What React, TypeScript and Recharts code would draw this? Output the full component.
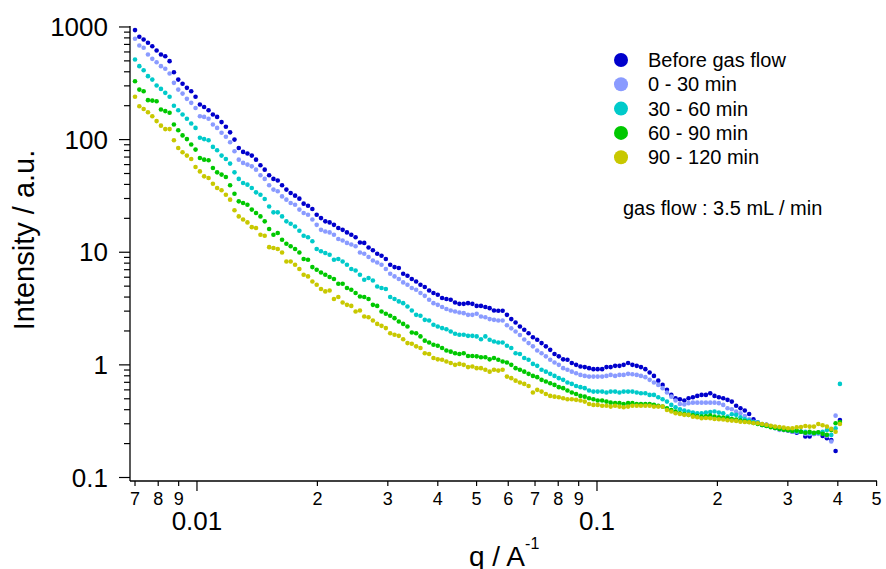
import React from 'react';
import { ScatterChart, Scatter, XAxis, YAxis } from 'recharts';

const FONT = '"Liberation Sans", Arial, Helvetica, sans-serif';

// Scattering vector q (1/Å), shared by all series
const qValues = [
  0.007000, 0.007176, 0.007357, 0.007542, 0.007732, 0.007927, 0.008127, 0.008332, 0.008542, 0.008757,
  0.008978, 0.009204, 0.009436, 0.009674, 0.009918, 0.01017, 0.01042, 0.01069, 0.01096, 0.01123,
  0.01152, 0.01181, 0.01210, 0.01241, 0.01272, 0.01304, 0.01337, 0.01371, 0.01405, 0.01441,
  0.01477, 0.01515, 0.01553, 0.01592, 0.01632, 0.01673, 0.01715, 0.01759, 0.01803, 0.01848,
  0.01895, 0.01943, 0.01992, 0.02042, 0.02093, 0.02146, 0.02200, 0.02256, 0.02313, 0.02371,
  0.02431, 0.02492, 0.02555, 0.02619, 0.02685, 0.02753, 0.02822, 0.02893, 0.02966, 0.03041,
  0.03118, 0.03196, 0.03277, 0.03359, 0.03444, 0.03531, 0.03620, 0.03711, 0.03805, 0.03901,
  0.03999, 0.04100, 0.04203, 0.04309, 0.04418, 0.04529, 0.04643, 0.04760, 0.04880, 0.05003,
  0.05129, 0.05259, 0.05391, 0.05527, 0.05666, 0.05809, 0.05955, 0.06105, 0.06259, 0.06417,
  0.06579, 0.06745, 0.06915, 0.07089, 0.07268, 0.07451, 0.07639, 0.07831, 0.08028, 0.08230,
  0.08437, 0.08650, 0.08868, 0.09091, 0.09320, 0.09555, 0.09796, 0.1004, 0.1030, 0.1056,
  0.1082, 0.1110, 0.1138, 0.1166, 0.1196, 0.1226, 0.1257, 0.1288, 0.1321, 0.1354,
  0.1388, 0.1423, 0.1459, 0.1496, 0.1534, 0.1572, 0.1612, 0.1653, 0.1694, 0.1737,
  0.1781, 0.1826, 0.1872, 0.1919, 0.1967, 0.2017, 0.2068, 0.2120, 0.2173, 0.2228,
  0.2284, 0.2342, 0.2401, 0.2461, 0.2523, 0.2587, 0.2652, 0.2719, 0.2787, 0.2858,
  0.2930, 0.3003, 0.3079, 0.3157, 0.3236, 0.3318, 0.3401, 0.3487, 0.3575, 0.3665,
  0.3757, 0.3852, 0.3949, 0.4049,
];

const beforeGasFlow = [
  938, 818, 774, 724, 675, 618, 570, 550, 497, 396,
  341, 313, 288, 269, 240, 205, 195, 182, 167, 159,
  143, 130, 116, 100, 84.3, 77.8, 75.2, 72.1, 66.4, 59.2,
  54.1, 48.2, 44.8, 43.3, 39.3, 36.0, 33.6, 31.8, 29.9, 27.0,
  25.9, 24.2, 21.5, 20.1, 18.8, 18.4, 17.5, 16.4, 15.8, 15.0,
  14.3, 13.6, 12.2, 12.1, 11.0, 10.4, 9.70, 9.31, 8.71, 7.74,
  7.38, 7.24, 6.44, 6.18, 5.78, 5.50, 5.14, 4.91, 4.57, 4.34,
  4.19, 3.92, 3.84, 3.78, 3.58, 3.48, 3.48, 3.53, 3.48, 3.34,
  3.34, 3.26, 3.19, 3.04, 3.02, 3.02, 2.78, 2.55, 2.38, 2.19,
  2.05, 1.91, 1.76, 1.67, 1.56, 1.46, 1.36, 1.25, 1.19, 1.12,
  1.11, 1.04, 1.00, 0.966, 0.955, 0.935, 0.916, 0.916, 0.916, 0.955,
  0.955, 0.980, 0.980, 1.00, 1.04, 1.00, 0.980, 0.955, 0.916, 0.855,
  0.798, 0.724, 0.664, 0.600, 0.541, 0.506, 0.495, 0.482, 0.506, 0.516,
  0.530, 0.541, 0.541, 0.560, 0.530, 0.516, 0.506, 0.489, 0.472, 0.433,
  0.412, 0.393, 0.366, 0.329, 0.307, 0.293, 0.293, 0.283, 0.279, 0.274,
  0.264, 0.261, 0.255, 0.250, 0.255, 0.231, 0.231, 0.244, 0.249, 0.234,
  0.223, 0.215, 0.172, 0.324,
];

const min0to30 = [
  785, 685, 653, 570, 521, 486, 449, 425, 386, 319,
  278, 256, 230, 212, 191, 161, 159, 153, 136, 127,
  115, 106, 94.6, 78.7, 66.4, 62.1, 60.0, 57.9, 54.1, 48.2,
  44.8, 39.3, 36.0, 34.8, 31.3, 29.3, 27.4, 26.4, 23.9, 22.3,
  21.5, 19.5, 17.5, 15.8, 15.3, 15.0, 14.3, 13.1, 12.7, 12.1,
  11.7, 11.3, 9.95, 9.70, 9.06, 8.45, 8.11, 7.74, 7.10, 6.44,
  6.10, 5.78, 5.40, 5.14, 4.81, 4.65, 4.34, 4.10, 3.78, 3.53,
  3.41, 3.26, 3.13, 3.04, 2.98, 2.92, 2.88, 2.78, 2.78, 2.84,
  2.69, 2.65, 2.55, 2.51, 2.48, 2.48, 2.25, 2.11, 1.98, 1.84,
  1.68, 1.56, 1.46, 1.34, 1.27, 1.19, 1.11, 1.05, 1.00, 0.935,
  0.904, 0.871, 0.843, 0.815, 0.798, 0.787, 0.787, 0.787, 0.787, 0.798,
  0.815, 0.798, 0.815, 0.815, 0.832, 0.826, 0.815, 0.798, 0.778, 0.736,
  0.697, 0.664, 0.621, 0.568, 0.522, 0.482, 0.450, 0.445, 0.457, 0.462,
  0.462, 0.462, 0.462, 0.462, 0.462, 0.457, 0.441, 0.412, 0.404, 0.385,
  0.372, 0.352, 0.329, 0.313, 0.307, 0.299, 0.293, 0.283, 0.274, 0.264,
  0.264, 0.261, 0.255, 0.255, 0.255, 0.244, 0.244, 0.244, 0.244, 0.250,
  0.234, 0.209, 0.354,
];

const min30to60 = [
  514, 449, 413, 366, 341, 302, 282, 260, 240, 200,
  182, 167, 153, 139, 127, 104, 101, 98.6, 86.1, 80.4,
  72.1, 67.3, 61.2, 51.2, 44.8, 41.2, 39.8, 37.2, 34.0, 32.4,
  29.7, 25.5, 22.6, 22.6, 20.8, 18.8, 17.9, 16.9, 15.5, 14.0,
  13.6, 12.5, 10.7, 10.2, 9.84, 9.51, 8.57, 8.71, 8.28, 7.74,
  7.10, 6.89, 6.31, 5.70, 5.90, 5.61, 4.97, 4.81, 4.71, 4.00,
  3.84, 3.66, 3.53, 3.30, 3.04, 2.78, 2.73, 2.51, 2.48, 2.27,
  2.19, 2.12, 2.07, 1.98, 1.89, 1.85, 1.85, 1.81, 1.81, 1.79,
  1.69, 1.79, 1.67, 1.61, 1.58, 1.58, 1.48, 1.41, 1.27, 1.25,
  1.15, 1.11, 1.02, 0.980, 0.904, 0.871, 0.832, 0.798, 0.762, 0.736,
  0.697, 0.678, 0.650, 0.634, 0.621, 0.592, 0.579, 0.579, 0.579, 0.568,
  0.579, 0.579, 0.568, 0.579, 0.579, 0.579, 0.568, 0.560, 0.560, 0.541,
  0.541, 0.516, 0.495, 0.472, 0.441, 0.421, 0.404, 0.393, 0.385, 0.377,
  0.372, 0.372, 0.377, 0.382, 0.385, 0.377, 0.372, 0.347, 0.364, 0.360,
  0.343, 0.329, 0.320, 0.311, 0.307, 0.294, 0.288, 0.283, 0.275, 0.274,
  0.268, 0.264, 0.261, 0.257, 0.255, 0.254, 0.250, 0.247, 0.250, 0.254,
  0.264, 0.239, 0.274, 0.678,
];

const min60to90 = [
  330, 278, 269, 224, 222, 219, 185, 179, 173, 136,
  121, 109, 101, 90.4, 81.5, 68.7, 66.4, 65.5, 56.0, 51.2,
  48.9, 46.6, 39.3, 33.1, 28.3, 27.4, 26.4, 23.9, 22.3, 20.8,
  18.8, 16.1, 14.3, 14.8, 12.9, 11.9, 11.3, 10.7, 9.95, 8.71,
  8.57, 7.38, 6.98, 6.61, 6.31, 6.03, 5.78, 5.25, 5.25, 4.81,
  4.65, 4.34, 4.05, 4.00, 3.84, 3.41, 3.34, 2.98, 2.84, 2.73,
  2.60, 2.43, 2.31, 2.19, 1.94, 1.91, 1.79, 1.64, 1.58, 1.51,
  1.48, 1.41, 1.34, 1.31, 1.27, 1.25, 1.27, 1.20, 1.20, 1.19,
  1.17, 1.17, 1.12, 1.15, 1.11, 1.07, 1.05, 1.00, 0.935, 0.904,
  0.871, 0.832, 0.798, 0.778, 0.736, 0.711, 0.687, 0.664, 0.634, 0.621,
  0.592, 0.568, 0.552, 0.530, 0.522, 0.506, 0.495, 0.482, 0.482, 0.472,
  0.462, 0.457, 0.457, 0.450, 0.457, 0.457, 0.450, 0.450, 0.450, 0.450,
  0.441, 0.433, 0.426, 0.412, 0.398, 0.385, 0.372, 0.366, 0.360, 0.357,
  0.352, 0.347, 0.350, 0.354, 0.347, 0.343, 0.340, 0.336, 0.331, 0.327,
  0.320, 0.316, 0.311, 0.305, 0.299, 0.293, 0.287, 0.279, 0.275, 0.270,
  0.266, 0.263, 0.259, 0.261, 0.255, 0.250, 0.254, 0.249, 0.252, 0.244,
  0.239, 0.264, 0.303, 0.311,
];

const min90to120 = [
  240, 198, 187, 175, 161, 146, 133, 124, 124, 98.6,
  84.3, 77.1, 72.1, 67.3, 57.1, 52.2, 47.2, 45.6, 40.6, 37.2,
  35.5, 32.4, 29.3, 23.6, 20.8, 19.5, 18.4, 16.7, 16.4, 14.3,
  14.0, 11.1, 10.9, 10.7, 9.95, 8.28, 8.28, 7.74, 7.10, 6.31,
  6.10, 5.50, 5.14, 4.71, 4.49, 4.57, 3.84, 4.00, 3.58, 3.41,
  3.34, 2.98, 3.04, 2.69, 2.65, 2.48, 2.31, 2.22, 2.12, 1.91,
  1.85, 1.81, 1.69, 1.56, 1.54, 1.46, 1.41, 1.27, 1.25, 1.15,
  1.12, 1.11, 1.07, 1.04, 1.00, 1.02, 1.00, 0.955, 0.966, 0.935,
  0.935, 0.904, 0.871, 0.904, 0.889, 0.904, 0.787, 0.762, 0.724, 0.697,
  0.678, 0.650, 0.568, 0.600, 0.579, 0.552, 0.530, 0.522, 0.516, 0.506,
  0.495, 0.495, 0.489, 0.482, 0.472, 0.450, 0.441, 0.441, 0.433, 0.433,
  0.426, 0.433, 0.426, 0.421, 0.426, 0.433, 0.433, 0.433, 0.433, 0.433,
  0.426, 0.426, 0.426, 0.398, 0.385, 0.372, 0.366, 0.360, 0.360, 0.347,
  0.343, 0.336, 0.338, 0.336, 0.331, 0.329, 0.327, 0.322, 0.320, 0.318,
  0.313, 0.311, 0.309, 0.305, 0.303, 0.299, 0.293, 0.288, 0.283, 0.281,
  0.277, 0.274, 0.274, 0.279, 0.281, 0.287, 0.283, 0.283, 0.299, 0.291,
  0.283, 0.270, 0.255, 0.299,
];

const seriesNames = ['Before gas flow', '0 - 30 min', '30 - 60 min', '60 - 90 min', '90 - 120 min'];
const seriesColors = ['#0000CC', '#8A9BFF', '#00CACA', '#00C800', '#C8C800'];
const seriesValues = [beforeGasFlow, min0to30, min30to60, min60to90, min90to120];

const xTicks = [0.007, 0.008, 0.009, 0.01, 0.02, 0.03, 0.04, 0.05, 0.06, 0.07, 0.08, 0.09, 0.1, 0.2, 0.3, 0.4, 0.5];
const xTickLabels = ['7', '8', '9', '0.01', '2', '3', '4', '5', '6', '7', '8', '9', '0.1', '2', '3', '4', '5'];

const yTicks = [
  0.1, 0.2, 0.3, 0.4, 0.5, 0.6, 0.7, 0.8, 0.9,
  1, 2, 3, 4, 5, 6, 7, 8, 9,
  10, 20, 30, 40, 50, 60, 70, 80, 90,
  100, 200, 300, 400, 500, 600, 700, 800, 900,
  1000,
];
const yMajorTicks = [0.1, 1, 10, 100, 1000];
const yMajorLabels = ['0.1', '1', '10', '100', '1000'];

const noteText = 'gas flow : 3.5 mL / min';

const findIdx = (arr: number[], v: number) => arr.findIndex((t) => Math.abs(t - v) / t < 1e-6);

const XTick = (props: any) => {
  const { x, y, payload } = props;
  const i = findIdx(xTicks, payload.value);
  const label = i >= 0 ? xTickLabels[i] : '';
  const major = label.includes('.');
  return (
    <g>
      <line x1={x} x2={x} y1={y} y2={y + (major ? 10 : 5)} stroke="#000" strokeWidth={1.2} />
      {major ? (
        <text x={x} y={y + 49} textAnchor="middle" fontSize={26} fontFamily={FONT} fill="#000">
          {label}
        </text>
      ) : (
        <text x={x} y={y + 24} textAnchor="middle" fontSize={18} fontFamily={FONT} fill="#000">
          {label}
        </text>
      )}
    </g>
  );
};

const YTick = (props: any) => {
  const { x, y, payload } = props;
  const i = findIdx(yMajorTicks, payload.value);
  const major = i >= 0;
  return (
    <g>
      <line x1={x - (major ? 11 : 6)} x2={x} y1={y} y2={y} stroke="#000" strokeWidth={1.2} />
      {major && (
        <text x={x - 22} y={y + 9} textAnchor="end" fontSize={26} fontFamily={FONT} fill="#000">
          {yMajorLabels[i]}
        </text>
      )}
    </g>
  );
};

export default function App() {
  const data = seriesValues.map((vals) => vals.map((v, i) => ({ q: qValues[i], I: v })));
  return (
    <div style={{ position: 'relative', width: 886, height: 569, background: '#fff' }}>
      <style>{'body{margin:0;background:#fff}'}</style>
      <ScatterChart width={886} height={569} margin={{ top: 26, right: 9, bottom: 0, left: 0 }}>
        <XAxis
          dataKey="q"
          type="number"
          scale="log"
          domain={[0.006801, 0.5012]}
          allowDataOverflow
          ticks={xTicks}
          interval={0}
          tick={<XTick />}
          tickLine={false}
          tickSize={0}
          tickMargin={0}
          axisLine={{ stroke: '#000', strokeWidth: 1.3 }}
          height={88}
        />
        <YAxis
          dataKey="I"
          type="number"
          scale="log"
          domain={[0.0931, 1020]}
          allowDataOverflow
          ticks={yTicks}
          interval={0}
          tick={<YTick />}
          tickLine={false}
          tickSize={0}
          tickMargin={0}
          axisLine={{ stroke: '#000', strokeWidth: 1.3 }}
          width={130}
        />
        {data.map((d, s) => (
          <Scatter
            key={seriesNames[s]}
            name={seriesNames[s]}
            data={d}
            fill={seriesColors[s]}
            isAnimationActive={false}
            shape={(p: any) => <circle cx={p.cx} cy={p.cy} r={2.3} fill={seriesColors[s]} />}
          />
        ))}
      </ScatterChart>
      <svg
        width={886}
        height={569}
        style={{ position: 'absolute', left: 0, top: 0, pointerEvents: 'none' }}
      >
        {seriesNames.map((n, i) => (
          <g key={n}>
            <circle cx={621} cy={60 + i * 24.3} r={7} fill={seriesColors[i]} />
            <text x={648} y={60 + i * 24.3 + 7} fontSize={20} fontFamily={FONT} fill="#000">
              {n}
            </text>
          </g>
        ))}
        <text x={623} y={215} fontSize={20} fontFamily={FONT} fill="#000">
          {noteText}
        </text>
        <text
          x={34}
          y={240}
          transform="rotate(-90 34 240)"
          textAnchor="middle"
          fontSize={29}
          fontFamily={FONT}
          fill="#000"
        >
          Intensity / a.u.
        </text>
        <text x={469} y={566} fontSize={28} fontFamily={FONT} fill="#000">
          q / A
          <tspan dy={-17} fontSize={16}>-1</tspan>
        </text>
      </svg>
    </div>
  );
}
